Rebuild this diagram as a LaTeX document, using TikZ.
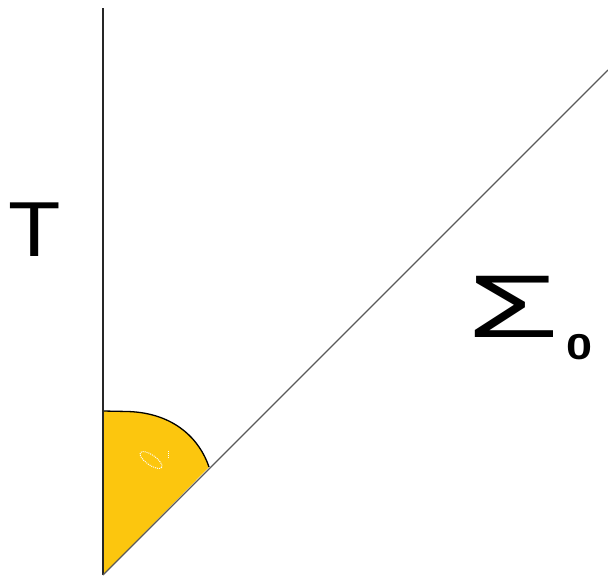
\documentclass[tikz,border=0pt]{standalone}
\usepackage{fontspec}
\setmainfont{Liberation Sans}
\usepackage{graphicx}
\usetikzlibrary{calc}

\definecolor{wedgeyellow}{RGB}{252,198,14}
\definecolor{edgegray}{RGB}{90,90,90}

\begin{document}
\begin{tikzpicture}[x=1pt, y=-1pt,
  axisline/.style={line width=1.6pt, black!85},
  slopeline/.style={line width=1.1pt, edgegray},
  wedgefill/.style={fill=wedgeyellow},
  wedgerim/.style={line width=1.3pt, black},
  every node/.style={inner sep=0pt}]

\useasboundingbox[fill=white] (0,0) rectangle (608,576);

% corner points
\coordinate (apex) at (103,575);
\coordinate (top) at (103,8);
\coordinate (far) at (608,70);
\coordinate (cap) at (103,411);
\coordinate (meet) at (209,467);

% yellow wedge between the two lines
\fill[wedgefill] (apex) -- (cap) -- (128,411.5)
  .. controls (175,413) and (200,440) .. (meet) -- cycle;
\draw[wedgerim] (cap) -- (128,411.5)
  .. controls (175,413) and (200,440) .. (meet);

% faint mark inside the wedge
\draw[white, densely dotted, line width=1pt, rotate around={-35:(151,460)}]
  (151,460) ellipse (13 and 5);
\draw[white, densely dotted, line width=1pt] (168,451) -- (168,458);

% the two lines
\draw[axisline] (apex) -- (top);
\draw[slopeline] (apex) -- (far);

% labels
\node[anchor=base, font=\fontsize{78}{78}\selectfont] (tlabel) at (35,256)
  {\scalebox{1.1}[1]{T}};
\node[anchor=base west] (sigmalabel) at (467,337)
  {\scalebox{1.67}[1]{\fontsize{89}{89}\selectfont Σ}\hspace{7pt}%
   \raisebox{-22pt}{\scalebox{1.3}[1]{\fontsize{36}{36}\selectfont\bfseries 0}}};

\end{tikzpicture}
\end{document}
